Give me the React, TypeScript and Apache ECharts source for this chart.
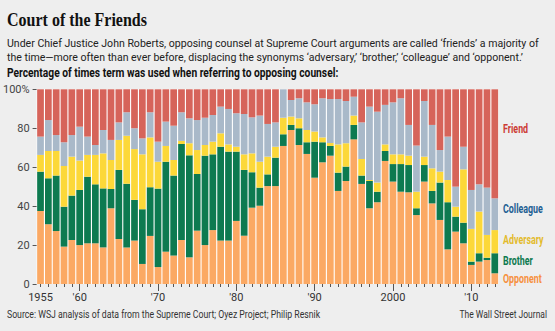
import React, { useEffect, useRef } from "react";
import * as echarts from "echarts";

const years: string[] = [];
for (let y = 1955; y <= 2013; y++) years.push(String(y));

const labelYears = ["1955", "1960", "1970", "1980", "1990", "2000", "2010"];
const labelTexts = ["1955", "'60", "'70", "'80", "'90", "2000", "'10"];
const majorTickYears = ["1960", "1970", "1980", "1990", "2000", "2010"];

const opponent = [37.5, 30.7, 27.2, 19.2, 22.6, 20.0, 20.9, 20.9, 18.8, 38.9, 23.1, 18.8, 22.3, 10.3, 24.7, 8.7, 16.6, 14.6, 22.6, 13.7, 27.4, 20.0, 27.7, 22.3, 22.3, 32.4, 24.8, 39.2, 40.2, 50.3, 50.3, 70.9, 79.1, 71.4, 66.8, 54.6, 62.5, 65.9, 47.8, 52.9, 74.3, 51.4, 38.9, 42.0, 63.2, 52.6, 47.4, 47.1, 35.4, 52.6, 41.4, 32.9, 17.8, 26.9, 20.9, 9.8, 11.5, 12.3, 5.5];
const brother = [20.2, 23.6, 28.5, 20.5, 22.8, 28.3, 34.2, 30.3, 30.3, 9.9, 35.5, 32.7, 20.9, 28.1, 25.0, 40.3, 46.2, 41.1, 49.3, 52.4, 29.1, 45.9, 38.9, 48.2, 45.7, 35.6, 33.8, 18.2, 9.3, 6.0, 14.6, 6.0, 2.6, 8.6, 6.0, 18.5, 10.3, 5.0, 9.4, 7.4, 7.4, 4.3, 14.0, 5.4, 5.1, 9.0, 14.2, 14.0, 3.5, 8.5, 6.4, 19.2, 24.2, 7.7, 10.6, 1.7, 4.3, 1.2, 10.3];
const adversary = [8.6, 14.0, 12.6, 20.9, 20.0, 15.1, 11.2, 15.1, 18.0, 14.9, 15.4, 24.7, 26.1, 28.2, 25.6, 13.8, 8.1, 8.0, 1.6, 6.2, 12.3, 5.5, 6.5, 6.9, 3.7, 2.5, 8.0, 9.7, 13.3, 9.1, 5.6, 8.5, 4.3, 5.1, 6.3, 5.2, 2.5, 1.5, 14.5, 12.0, 4.8, 8.5, 0.5, 4.7, 3.4, 5.0, 5.0, 4.8, 8.5, 4.3, 11.6, 5.6, 11.4, 5.1, 27.4, 16.8, 21.4, 11.7, 11.9];
const colleague = [9.4, 15.9, 8.2, 12.2, 11.1, 17.4, 9.4, 5.1, 12.0, 10.3, 9.0, 12.0, 10.7, 8.2, 12.9, 10.3, 12.5, 17.6, 14.7, 12.8, 15.4, 14.0, 13.7, 13.7, 18.2, 17.2, 20.7, 18.5, 23.7, 16.8, 12.5, 14.6, 8.5, 10.3, 14.2, 14.0, 20.1, 22.6, 23.3, 21.7, 9.7, 18.8, 37.7, 36.4, 20.3, 26.7, 28.8, 15.8, 23.7, 28.6, 22.3, 11.1, 22.3, 10.3, 11.6, 20.0, 14.0, 24.3, 16.3];
const friend = [24.3, 15.8, 23.5, 27.2, 23.5, 19.2, 24.3, 28.6, 20.9, 26.0, 17.0, 11.8, 20.0, 25.2, 11.8, 26.9, 16.6, 18.7, 11.8, 14.9, 15.8, 14.6, 13.2, 8.9, 10.1, 12.3, 12.7, 14.4, 13.5, 17.8, 17.0, 0, 5.5, 4.6, 6.7, 7.7, 4.6, 5.0, 5.0, 6.0, 3.8, 17.0, 8.9, 11.5, 8.0, 6.7, 4.6, 18.3, 28.9, 6.0, 18.3, 31.2, 24.3, 50.0, 29.5, 51.7, 48.8, 50.5, 56.0];

const seriesNames = ["Opponent", "Brother", "Adversary", "Colleague", "Friend"];
const seriesData = [opponent, brother, adversary, colleague, friend];
const barColors = ["#fba964", "#0d7a50", "#fcd839", "#a9b9c9", "#d6645a"];
const labelColors = ["#f6913f", "#0d7a50", "#e3bb2c", "#215f93", "#cc3b35"];
const labelY = [279, 261, 240, 209, 129];

const SANS = "Roboto, 'Liberation Sans', sans-serif";

function txt(text: string, x: number, y: number, font: string, fill: string, scaleX: number, align = "left"): any {
  return {
    type: "text",
    x, y, scaleX, scaleY: 1,
    style: { text, font, fill, align, verticalAlign: "middle" },
  };
}

export default function App() {
  const ref = useRef<HTMLDivElement>(null);
  useEffect(() => {
    document.body.style.margin = "0";
    const chart = echarts.init(ref.current!, null, { renderer: "svg" });
    const option: any = {
      animation: false,
      backgroundColor: "#eeeeee",
      grid: {
        left: 33.3, right: 56.3, top: 89.3, bottom: 47,
        show: true, backgroundColor: "#ffffff", borderWidth: 0,
      },
      xAxis: [
        {
          type: "category",
          data: years,
          axisLine: { show: false },
          axisTick: { show: true, alignWithLabel: true, interval: 0, length: 3, lineStyle: { color: "#555" } },
          axisLabel: {
            interval: (i: number, v: string) => labelYears.indexOf(v) >= 0,
            formatter: (v: string) => labelTexts[labelYears.indexOf(v)] ?? "",
            color: "#333", fontSize: 11, margin: 8, fontFamily: SANS,
          },
        },
        {
          type: "category",
          data: years,
          position: "bottom",
          axisLine: { show: false },
          axisLabel: { show: false },
          axisTick: {
            show: true, alignWithLabel: true, length: 7,
            interval: (i: number, v: string) => majorTickYears.indexOf(v) >= 0,
            lineStyle: { color: "#555" },
          },
        },
      ],
      yAxis: {
        type: "value", min: 0, max: 100, interval: 20,
        axisLine: { show: false },
        splitLine: { show: false },
        axisTick: { show: true, length: 4, lineStyle: { color: "#555" } },
        axisLabel: {
          formatter: (v: number) => (v === 100 ? "100%" : String(v)),
          color: "#444", fontSize: 11, margin: 7, fontFamily: SANS,
        },
      },
      series: seriesNames.map((n, i) => ({
        name: n,
        type: "bar",
        stack: "all",
        xAxisIndex: 0,
        barCategoryGap: "14%",
        data: seriesData[i],
        itemStyle: { color: barColors[i] },
      })),
      graphic: [
        txt("Court of the Friends", 7, 20, "bold 18px 'Liberation Serif', serif", "#111", 0.89),
        txt("Under Chief Justice John Roberts, opposing counsel at Supreme Court arguments are called \u2018friends\u2019 a majority of", 7, 43, `11px ${SANS}`, "#222", 0.96),
        txt("the time\u2014more often than ever before, displacing the synonyms \u2018adversary,\u2019 \u2018brother,\u2019 \u2018colleague\u2019 and \u2018opponent.\u2019", 7, 57, `11px ${SANS}`, "#222", 0.96),
        txt("Percentage of times term was used when referring to opposing counsel:", 7, 73, `bold 12px ${SANS}`, "#111", 0.855),
        ...seriesNames.map((n, i) => txt(n, 503, labelY[i], `bold 12px ${SANS}`, labelColors[i], 0.74)),
        txt("Source: WSJ analysis of data from the Supreme Court; Oyez Project; Philip Resnik", 7, 314, `10px ${SANS}`, "#333", 0.87),
        txt("The Wall Street Journal", 547, 314, `10px ${SANS}`, "#333", 0.85, "right"),
      ],
    };
    chart.setOption(option);
    return () => chart.dispose();
  }, []);
  return <div ref={ref} style={{ width: 555, height: 331 }} />;
}
